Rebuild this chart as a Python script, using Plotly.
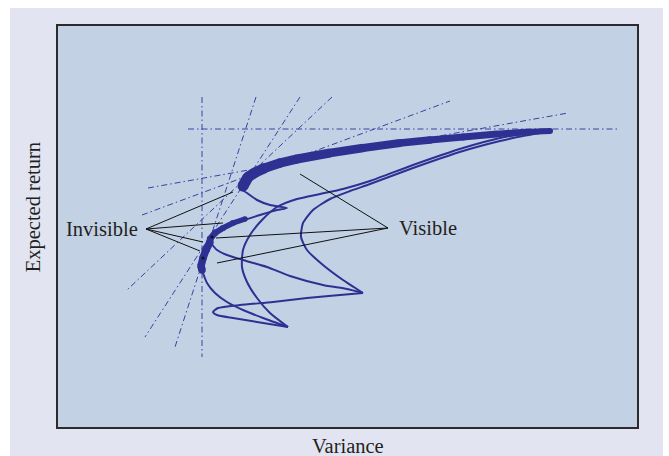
import numpy as np
import plotly.graph_objects as go

# ---------------- data (variance, expected return) ----------------
thick_top_x = [1.86, 1.91, 1.99, 2.08, 2.23, 2.40, 2.73, 3.06, 3.43, 3.73, 4.06, 4.40, 4.68, 4.93]
thick_top_y = [2.42, 2.51, 2.56, 2.60, 2.65, 2.69, 2.75, 2.80, 2.85, 2.88, 2.91, 2.94, 2.96, 2.97]

thick_mid_x = [1.88, 1.76, 1.66, 1.58, 1.53]
thick_mid_y = [2.09, 2.05, 2.00, 1.95, 1.89]

thick_low_x = [1.53, 1.49, 1.46, 1.44, 1.45]
thick_low_y = [1.86, 1.78, 1.70, 1.62, 1.58]

cusp1_x = [1.85, 1.90, 2.00, 2.13, 2.30, 2.20, 2.03, 1.90, 1.86]
cusp1_y = [2.38, 2.35, 2.28, 2.23, 2.20, 2.18, 2.13, 2.09, 2.08]

down_x = [1.46, 1.50, 1.58, 1.70, 1.86, 2.06, 2.31]
down_y = [1.55, 1.45, 1.35, 1.26, 1.18, 1.10, 1.01]

loop_x = [2.31, 2.00, 1.76, 1.60, 1.56, 1.61, 1.83, 2.16, 2.50, 2.83, 3.06]
loop_y = [1.01, 1.06, 1.10, 1.13, 1.16, 1.20, 1.23, 1.26, 1.30, 1.33, 1.35]

bridge_x = [1.53, 1.60, 1.70, 1.86, 2.10, 2.33, 2.66, 2.90, 3.06]
bridge_y = [1.86, 1.78, 1.73, 1.68, 1.61, 1.52, 1.43, 1.39, 1.35]

inner_x = [3.06, 2.86, 2.66, 2.50, 2.44, 2.46, 2.56, 2.73, 2.93, 3.13, 3.56, 4.06, 4.43, 4.66, 4.83]
inner_y = [1.35, 1.48, 1.63, 1.78, 1.91, 2.05, 2.18, 2.29, 2.37, 2.44, 2.60, 2.77, 2.87, 2.92, 2.95]

outer_x = [2.31, 2.13, 2.00, 1.90, 1.85, 1.86, 1.93, 2.05, 2.20, 2.40, 2.63, 2.86, 3.13, 3.56, 4.06, 4.43, 4.66, 4.83]
outer_y = [1.01, 1.15, 1.30, 1.46, 1.61, 1.78, 1.93, 2.08, 2.21, 2.29, 2.34, 2.39, 2.47, 2.63, 2.80, 2.90, 2.94, 2.96]

# dash-dot reference / tangent lines: (x0, y0, x1, y1)
ref_lines = [
    (1.45, 3.31, 1.45, 0.71),
    (1.31, 2.99, 5.60, 2.99),
    (1.99, 3.31, 1.18, 0.81),
    (2.43, 3.31, 0.88, 0.91),
    (2.75, 3.31, 0.70, 1.38),
    (0.91, 2.40, 5.11, 3.15),
    (0.85, 2.13, 3.93, 3.27),
]

invisible_anchor = (0.89, 1.99)
invisible_targets = [(1.76, 2.36), (1.66, 2.05), (1.46, 1.86), (1.43, 1.77)]
visible_anchor = (3.31, 2.00)
visible_targets = [(2.43, 2.54), (1.59, 1.90), (1.60, 1.65)]
marker_dots_x = [1.55, 1.46]
marker_dots_y = [1.91, 1.70]

label_invisible = "Invisible"
label_visible = "Visible"
invisible_pos = (0.83, 1.99)
visible_pos = (3.40, 2.00)
x_title = "Variance"
y_title = "Expected return"

# ---------------- styles ----------------
CURVE = "#2e3192"
REF = "#3c40a0"
FONT = "Liberation Serif"
TXT = "#231f20"

fig = go.Figure()

for (x0, y0, x1, y1) in ref_lines:
    fig.add_trace(go.Scatter(x=[x0, x1], y=[y0, y1], mode="lines",
                             line=dict(color=REF, width=1, dash="6px,3px,1.5px,3px"),
                             hoverinfo="skip", showlegend=False))

for xs, ys in [(cusp1_x, cusp1_y), (down_x, down_y), (loop_x, loop_y),
               (bridge_x, bridge_y), (inner_x, inner_y), (outer_x, outer_y)]:
    fig.add_trace(go.Scatter(x=xs, y=ys, mode="lines",
                             line=dict(color=CURVE, width=2, shape="spline", smoothing=0.6),
                             hoverinfo="skip", showlegend=False))

def thick(xs, ys, w0, w1):
    n = len(xs)
    ws = np.linspace(w0, w1, n - 1)
    for i in range(n - 1):
        fig.add_trace(go.Scatter(x=xs[i:i + 2], y=ys[i:i + 2], mode="lines",
                                 line=dict(color=CURVE, width=float(ws[i])),
                                 hoverinfo="skip", showlegend=False))
    sizes = list(ws) + [w1]
    fig.add_trace(go.Scatter(x=xs, y=ys, mode="markers",
                             marker=dict(color=CURVE, opacity=1, size=[float(s) for s in sizes],
                                         line=dict(width=0)),
                             hoverinfo="skip", showlegend=False))

thick(thick_top_x, thick_top_y, 11, 6)
thick(thick_mid_x, thick_mid_y, 5.5, 6.5)
thick(thick_low_x, thick_low_y, 7.5, 7.5)

for anchor, targets in [(invisible_anchor, invisible_targets), (visible_anchor, visible_targets)]:
    for tx, ty in targets:
        fig.add_trace(go.Scatter(x=[anchor[0], tx], y=[anchor[1], ty], mode="lines",
                                 line=dict(color="#111111", width=1),
                                 hoverinfo="skip", showlegend=False))

fig.add_trace(go.Scatter(x=marker_dots_x, y=marker_dots_y, mode="markers",
                         marker=dict(color="#111111", size=3),
                         hoverinfo="skip", showlegend=False))

fig.add_annotation(x=invisible_pos[0], y=invisible_pos[1], text=label_invisible, showarrow=False,
                   xanchor="right", yanchor="middle", font=dict(family=FONT, size=20.5, color=TXT))
fig.add_annotation(x=visible_pos[0], y=visible_pos[1], text=label_visible, showarrow=False,
                   xanchor="left", yanchor="middle", font=dict(family=FONT, size=20.5, color=TXT))
fig.add_annotation(xref="paper", yref="paper", x=0.5, y=-0.044, text=x_title, showarrow=False,
                   xanchor="center", yanchor="middle", font=dict(family=FONT, size=20.5, color=TXT))
fig.add_annotation(xref="paper", yref="paper", x=-0.041, y=0.548, text=y_title, showarrow=False,
                   textangle=-90, xanchor="center", yanchor="middle",
                   font=dict(family=FONT, size=20.5, color=TXT))

W, H = 669, 456
L, R, T, B = 57, 31, 25, 28
pw, ph = W - L - R, H - T - B
fig.add_shape(type="rect", xref="paper", yref="paper",
              x0=(10 - L) / pw, x1=(663 - L) / pw,
              y0=-(B + 10) / ph, y1=(ph + T - 8) / ph,
              fillcolor="#e2e5f1", line=dict(width=0), layer="below")
fig.add_shape(type="rect", xref="x domain", yref="y domain", x0=0, x1=1, y0=0, y1=1,
              fillcolor="#c2d1e4", line=dict(color="#2b2b2e", width=2), layer="below")

fig.update_layout(
    width=W, height=H,
    margin=dict(l=L, r=R, t=T, b=B),
    paper_bgcolor="white", plot_bgcolor="rgba(0,0,0,0)",
    xaxis=dict(range=[0, 5.81], visible=False, fixedrange=True),
    yaxis=dict(range=[0, 4.03], visible=False, fixedrange=True),
    showlegend=False,
)

fig.write_html("out.html", config={"displayModeBar": False},
               post_script="document.body.style.margin='0';document.body.style.overflow='hidden';")
